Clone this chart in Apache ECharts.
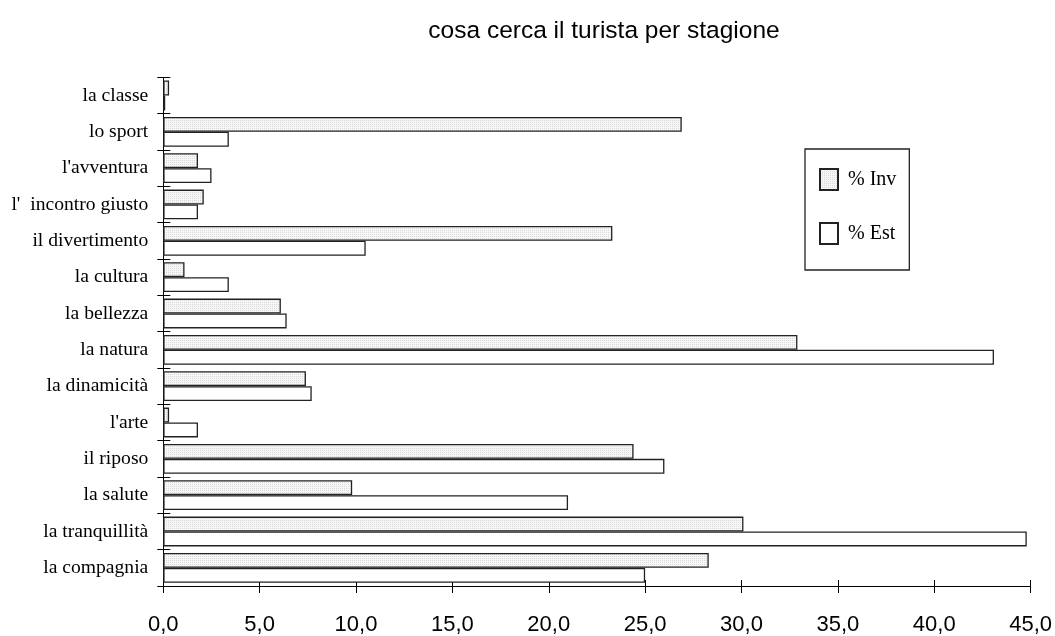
<!DOCTYPE html>
<html>
<head>
<meta charset="utf-8">
<title>cosa cerca il turista per stagione</title>
<script src="https://cdn.jsdelivr.net/npm/echarts@6/dist/echarts.min.js"></script>
<style>
  html, body { margin: 0; padding: 0; background: #fff; }
  #chart { width: 1055px; height: 636px; }
</style>
</head>
<body>
<div id="chart"></div>
<script>
// Categories, listed from the bottom of the axis to the top
const categories = [
  'la compagnia', 'la tranquillità', 'la salute', 'il riposo', "l'arte",
  'la dinamicità', 'la natura', 'la bellezza', 'la cultura', 'il divertimento',
  "l'  incontro giusto", "l'avventura", 'lo sport', 'la classe'
];

// Percentages per season
const invValues = [28.3, 30.1, 9.8, 24.4, 0.3, 7.4, 32.9, 6.1, 1.1, 23.3, 2.1, 1.8, 26.9, 0.3];
const estValues = [25.0, 44.8, 21.0, 26.0, 1.8, 7.7, 43.1, 6.4, 3.4, 10.5, 1.8, 2.5, 3.4, 0.1];

const seriesNames = ['% Inv', '% Est'];
const chartTitle = 'cosa cerca il turista per stagione';

// Fine stippled light-grey fill for the winter bars
function stipple() {
  const c = document.createElement('canvas');
  c.width = 2; c.height = 2;
  const g = c.getContext('2d');
  g.fillStyle = '#f7f7f7'; g.fillRect(0, 0, 2, 2);
  g.fillStyle = '#dadada'; g.fillRect(0, 0, 1, 1);
  return c;
}

const chart = echarts.init(document.getElementById('chart'), null, { renderer: 'canvas' });

const sansFont = 'Liberation Sans, Arial, sans-serif';
const serifFont = 'Liberation Serif, Times New Roman, serif';
const axisColor = '#000';

chart.setOption({
  animation: false,
  backgroundColor: '#fff',
  title: {
    text: chartTitle,
    left: 599,
    top: 14,
    textAlign: 'center',
    textStyle: { fontFamily: sansFont, fontSize: 24.5, fontWeight: 'normal', color: '#000' }
  },
  legend: {
    orient: 'vertical',
    left: 805,
    top: 149,
    data: seriesNames,
    icon: 'rect',
    itemWidth: 18,
    itemHeight: 21,
    itemGap: 31,
    padding: [19, 13, 25, 14],
    borderColor: '#222',
    borderWidth: 1.3,
    textStyle: { fontFamily: serifFont, fontSize: 20, color: '#000', padding: [0, 0, 0, 5] }
  },
  grid: { left: 163.3, right: 22.7, top: 77.3, bottom: 49.3, containLabel: false },
  xAxis: [
    {
      type: 'value', min: 0, max: 45, interval: 5, position: 'bottom',
      splitLine: { show: false },
      axisLine: { show: true, lineStyle: { color: axisColor, width: 1 } },
      axisTick: { show: true, length: 7, lineStyle: { color: axisColor } },
      axisLabel: {
        margin: 28, fontFamily: sansFont, fontSize: 22, color: '#000',
        formatter: v => v.toFixed(1).replace('.', ',')
      }
    },
    {
      type: 'value', min: 0, max: 45, interval: 5, position: 'bottom',
      splitLine: { show: false },
      axisLine: { show: false },
      axisTick: { show: true, inside: true, length: 6, lineStyle: { color: axisColor } },
      axisLabel: { show: false }
    }
  ],
  yAxis: [
    {
      type: 'category', data: categories, position: 'left',
      axisLine: { show: true, lineStyle: { color: axisColor, width: 1 } },
      axisTick: { show: true, length: 6, lineStyle: { color: axisColor } },
      axisLabel: { margin: 15, fontFamily: serifFont, fontSize: 19.6, color: '#000' }
    },
    {
      type: 'category', data: categories, position: 'left',
      axisLine: { show: false },
      axisTick: { show: true, inside: true, length: 7, lineStyle: { color: axisColor } },
      axisLabel: { show: false }
    }
  ],
  series: [
    {
      name: seriesNames[0], type: 'bar', data: invValues,
      barCategoryGap: '18%', barGap: '0%',
      itemStyle: {
        color: { image: stipple(), repeat: 'repeat' },
        borderColor: '#222', borderWidth: 1.3
      }
    },
    {
      name: seriesNames[1], type: 'bar', data: estValues,
      barCategoryGap: '18%', barGap: '0%',
      itemStyle: { color: '#fff', borderColor: '#222', borderWidth: 1.3 }
    }
  ]
});
</script>
</body>
</html>
